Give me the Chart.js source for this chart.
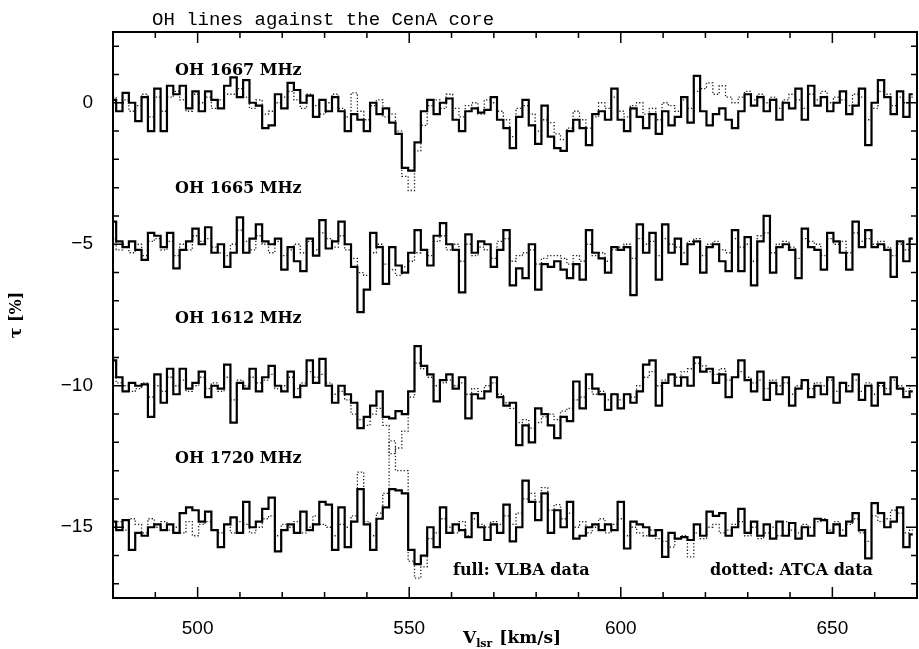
<!DOCTYPE html>
<html><head><meta charset="utf-8">
<script src="https://cdn.jsdelivr.net/npm/chart.js@4.4.1/dist/chart.umd.min.js"></script>
<style>html,body{margin:0;padding:0;background:#fff;}canvas{display:block;}</style>
</head><body>
<canvas id="c" width="919" height="649"></canvas>
<script>
// Channel velocities (km/s)
const velocity = [
480,481.5,483,484.5,486,487.5,489,490.5,492,493.5,
495,496.5,498,499.5,501,502.5,504,505.5,507,508.5,
510,511.5,513,514.5,516,517.5,519,520.5,522,523.5,
525,526.5,528,529.5,531,532.5,534,535.5,537,538.5,
540,541.5,543,544.5,546,547.5,549,550.5,552,553.5,
555,556.5,558,559.5,561,562.5,564,565.5,567,568.5,
570,571.5,573,574.5,576,577.5,579,580.5,582,583.5,
585,586.5,588,589.5,591,592.5,594,595.5,597,598.5,
600,601.5,603,604.5,606,607.5,609,610.5,612,613.5,
615,616.5,618,619.5,621,622.5,624,625.5,627,628.5,
630,631.5,633,634.5,636,637.5,639,640.5,642,643.5,
645,646.5,648,649.5,651,652.5,654,655.5,657,658.5,
660,661.5,663,664.5,666,667.5,669];

// Vertical offsets of the four spectra (%)
const offsets = [0, -5, -10, -15];
const lineNames = ['OH 1667 MHz', 'OH 1665 MHz', 'OH 1612 MHz', 'OH 1720 MHz'];

// VLBA (full) optical depth, %, relative to offset
const vlba1667 = [
0.1,-0.3,0.35,0.0,-0.65,0.2,-1.0,0.5,-1.0,0.6,
0.3,0.6,-0.2,0.4,-0.3,0.4,0.1,-0.2,0.6,0.9,
0.2,0.8,0.0,-0.1,-0.9,-0.8,0.3,-0.2,0.7,0.45,
0.0,0.25,-0.5,0.1,-0.3,0.2,-0.3,-1.0,-0.4,-0.6,
-1.0,0.0,-0.4,-0.2,-0.7,-1.1,-2.3,-2.4,-1.4,-0.3,
0.1,-0.4,0.0,0.15,-0.6,-1.0,-0.3,-0.2,-0.35,-0.25,
0.2,-0.6,-0.9,-1.6,-0.5,0.1,-0.8,-1.45,-0.1,-1.2,
-1.6,-1.7,-1.0,-0.6,-0.9,-1.5,-0.4,-0.3,-0.6,0.5,
-0.6,-1.0,-0.2,-0.5,-0.9,-0.4,-1.1,-0.3,-0.8,-0.5,
0.2,-0.7,0.95,-0.3,-0.8,-0.4,-0.2,-0.6,-0.9,-0.3,
0.3,-0.1,0.2,-0.3,0.1,-0.6,0.0,-0.2,0.5,-0.6,
0.6,-0.1,0.2,-0.3,0.0,0.4,-0.4,-0.1,0.5,-1.5,
0.0,0.8,0.2,-0.4,0.4,-0.5,0.3];
const vlba1665 = [
0.8,0.1,-0.1,0.1,-0.2,-0.55,0.4,0.3,-0.1,0.4,
-0.85,-0.2,0.1,0.55,0.0,0.6,-0.3,0.0,-0.8,-0.3,
0.95,-0.3,0.2,0.7,0.1,0.0,0.2,-0.9,-0.1,-0.6,
-0.95,0.2,-0.4,0.85,-0.15,0.1,0.8,0.0,-0.8,-2.4,
-1.6,0.4,-0.1,-1.4,-0.1,-0.75,-1.0,-0.3,0.5,-0.2,
-0.75,0.3,0.75,0.0,-0.2,-1.7,0.35,-0.3,0.1,0.0,
-0.8,-0.2,0.5,-1.45,-0.85,-1.2,0.0,-1.6,-0.7,-0.8,
-0.6,-0.9,-1.2,-0.7,-1.25,0.5,-0.3,-0.5,-1.0,-0.1,
-0.2,-0.1,-1.8,0.7,-0.3,0.4,-1.25,0.7,-0.3,0.2,
-0.7,0.0,0.1,-1.0,-0.1,0.0,-0.6,-0.95,0.5,-0.95,
0.25,-1.45,0.1,1.0,-1.0,-0.1,0.0,-0.2,-1.2,0.55,
-0.1,-0.2,-0.9,0.4,0.1,-0.3,-0.9,0.8,-0.1,0.5,
-0.1,0.0,-0.2,-1.15,0.1,-0.6,0.2];
const vlba1612 = [
0.9,0.3,-0.2,0.1,0.0,0.05,-1.1,0.4,-0.6,0.6,
-0.3,0.6,-0.1,0.1,0.5,-0.4,0.0,-0.1,0.75,-1.3,
0.1,-0.1,0.6,-0.2,0.3,0.7,0.0,-0.2,0.5,-0.4,
0.0,0.9,0.1,0.95,0.0,-0.6,0.0,-0.3,-0.6,-1.5,
-1.1,-0.7,-0.2,-1.1,-1.15,-0.9,-1.0,-0.2,1.4,0.7,
0.4,-0.55,0.2,0.4,-0.1,0.3,-1.15,-0.3,-0.45,-0.2,
0.3,-0.4,-0.7,-0.6,-2.1,-1.4,-2.0,-0.8,-1.0,-1.4,
-1.85,-1.1,-1.25,0.15,-0.8,0.4,-0.1,-0.3,-0.85,-0.3,
-0.8,-0.3,-0.6,-0.2,0.75,0.9,-0.7,0.1,0.4,0.0,
0.3,0.0,1.0,0.5,0.6,0.1,0.4,-0.4,0.3,0.9,
0.2,-0.2,0.5,-0.5,0.1,-0.3,0.3,-0.7,-0.1,0.2,
-0.4,0.0,-0.3,0.3,-0.6,0.1,-0.2,0.4,-0.5,0.0,
-0.7,0.1,-0.3,0.3,-0.1,-0.4,-0.2];
const vlba1720 = [
0.2,-0.1,0.25,-0.8,-0.2,-0.3,0.0,0.1,-0.1,0.1,
-0.2,0.5,0.7,0.6,0.2,0.55,-0.1,-0.7,0.1,0.35,
-0.2,0.9,0.0,0.2,0.65,1.05,-0.85,-0.1,0.1,-0.2,
0.55,-0.1,0.1,0.9,0.8,-0.8,0.7,-0.7,0.2,1.35,
0.1,-0.8,0.3,0.7,1.35,1.3,1.2,-0.8,-1.3,-1.0,
0.0,-0.7,0.7,-0.2,0.1,-0.1,-0.35,0.5,0.0,-0.45,
0.1,-0.2,0.8,-0.5,0.0,1.65,0.9,0.25,1.2,-0.2,
0.6,0.0,0.9,-0.4,-0.3,0.0,0.1,-0.1,0.1,-0.1,
0.9,-0.75,0.2,0.1,0.0,-0.3,-0.1,-1.05,-0.2,-0.4,
-0.35,-0.45,0.1,-0.3,0.55,0.4,0.5,-0.3,0.0,0.65,
-0.2,0.2,-0.3,0.1,-0.4,0.2,-0.3,0.15,-0.4,0.0,
-0.3,0.3,0.25,-0.2,0.1,-0.3,0.2,0.5,-0.1,-1.1,
0.85,0.5,0.0,0.2,0.7,-0.7,-0.25];

// ATCA (dotted) optical depth, %, relative to offset
const atca1667 = [
0.2,0.0,0.1,-0.3,-0.1,0.3,-0.5,0.2,-0.3,0.2,
0.4,0.1,-0.3,0.3,0.0,0.2,-0.2,0.1,0.3,0.3,
0.5,0.2,-0.2,0.1,-0.4,-0.3,0.0,0.2,0.4,0.1,
-0.2,0.3,-0.1,-0.4,0.0,0.3,-0.2,-0.5,0.35,-0.3,
-0.6,-0.1,0.1,-0.5,-0.4,-1.0,-2.6,-3.1,-1.7,-0.8,
-0.1,0.1,-0.2,0.3,-0.2,-0.5,-0.1,0.0,-0.4,0.1,
0.0,-0.3,-0.6,-1.2,-0.2,-0.1,-0.4,-1.0,-0.6,-0.7,
-1.1,-1.3,-0.9,-0.3,-0.6,-0.9,-0.5,0.0,-0.2,0.2,
-0.3,-0.5,-0.1,0.0,-0.4,-0.2,-0.6,0.0,-0.1,-0.3,
0.1,-0.2,0.4,0.5,0.7,0.3,0.6,0.2,0.0,0.2,
0.4,0.1,0.3,0.0,0.2,-0.2,0.1,0.3,0.1,-0.2,
0.3,0.1,0.4,0.0,0.2,0.1,-0.1,0.3,0.2,-0.6,
-0.2,0.4,0.3,-0.1,0.2,0.0,0.2];
const atca1665 = [
0.2,-0.2,-0.1,-0.3,0.0,-0.4,0.1,0.2,-0.2,0.1,
-0.4,0.0,-0.2,0.3,0.1,0.2,-0.1,-0.3,-0.4,0.0,
0.5,0.1,-0.2,0.3,0.0,-0.3,0.1,-0.4,-0.2,0.0,
-0.3,0.1,-0.2,0.4,0.2,-0.1,0.3,-0.2,-0.5,-1.0,
-1.1,-0.3,0.0,-0.7,-0.9,-1.1,-0.8,-0.6,-0.3,-0.2,
-0.4,0.1,0.3,-0.2,0.0,-0.6,0.0,-0.4,-0.1,-0.2,
-0.5,0.1,0.2,-0.6,-0.4,-0.3,-0.2,-0.7,-0.5,-0.4,
-0.4,-0.5,-0.7,-0.4,-0.6,0.0,-0.4,-0.3,-0.6,-0.2,
-0.1,0.0,-0.5,0.2,0.0,0.1,-0.4,0.2,0.0,-0.1,
-0.3,0.1,0.2,-0.4,0.0,0.1,-0.2,-0.3,0.2,-0.1,
0.0,-0.6,0.3,0.4,-0.3,0.0,0.1,-0.1,-0.5,0.2,
0.1,0.0,-0.4,0.2,0.0,0.1,-0.3,0.4,0.1,0.2,
0.0,0.1,-0.1,-0.4,0.0,-0.2,0.1];
const atca1612 = [
0.3,0.1,0.0,-0.2,-0.1,0.1,-0.4,0.0,-0.2,0.3,
0.0,0.2,-0.2,0.0,0.3,-0.1,0.1,-0.2,0.3,-0.5,
0.2,0.0,0.3,0.1,0.2,0.4,-0.1,0.0,0.3,-0.1,
0.1,0.5,0.3,0.4,0.1,-0.3,-0.2,-0.5,-1.0,-1.2,
-1.4,-1.0,-0.8,-1.4,-2.4,-2.2,-1.6,-0.4,0.8,0.6,
0.3,0.0,0.1,0.2,0.0,0.1,-0.3,-0.1,-0.2,0.0,
0.1,-0.3,-0.6,-0.8,-1.3,-1.2,-1.5,-1.3,-1.1,-1.0,
-1.2,-0.9,-0.8,-0.5,-0.4,-0.1,-0.3,-0.2,-0.5,-0.3,
-0.5,-0.3,-0.4,0.0,0.3,0.5,0.0,0.2,0.4,0.3,
0.5,0.6,0.8,0.7,0.5,0.4,0.6,0.2,0.3,0.5,
0.3,0.1,0.2,-0.1,0.2,0.0,0.1,-0.3,0.0,0.2,
-0.1,0.1,0.0,0.2,-0.2,0.1,0.0,0.2,-0.2,0.1,
-0.3,0.0,-0.1,0.2,0.0,-0.2,0.0];
const atca1720 = [
0.0,0.2,-0.1,0.3,0.1,-0.2,0.3,0.0,0.2,-0.1,
0.0,-0.2,0.2,-0.3,0.1,0.2,-0.1,-0.2,0.1,-0.2,
0.2,0.1,-0.2,0.0,0.3,0.4,-0.3,0.1,0.0,0.2,
-0.2,0.0,0.4,0.1,0.0,-0.3,0.1,0.0,0.4,1.95,
0.2,-0.3,0.5,1.2,3.05,2.0,2.0,-1.2,-1.8,-1.4,
-0.4,-0.2,0.3,0.0,-0.2,0.2,-0.3,0.3,0.1,0.0,
0.2,0.1,0.4,0.1,0.5,1.0,1.2,0.9,1.4,0.6,
0.8,0.3,0.5,0.0,0.2,-0.2,0.0,0.3,-0.2,0.1,
0.3,-0.3,0.0,-0.2,-0.3,-0.1,-0.4,-0.5,-0.7,-0.4,
-0.3,-1.05,-0.2,-0.4,0.0,0.1,-0.2,-0.1,0.1,0.2,
-0.3,0.0,-0.4,-0.2,0.0,-0.3,0.2,-0.1,-0.2,0.1,
0.0,0.2,0.3,-0.1,0.2,-0.1,0.1,0.3,-0.2,-0.5,
0.4,0.2,0.3,0.6,0.5,-0.2,-0.1];

// Axis ticks
const xTicks = [500, 550, 600, 650];
const xTickLabels = ['500', '550', '600', '650'];
const xMinorTicks = [490,500,510,520,530,540,550,560,570,580,590,600,610,620,630,640,650,660];
const yTicks = [0, -5, -10, -15];
const yTickLabels = ['0', '\u22125', '\u221210', '\u221215'];
const yMinorTicks = [2,1,0,-1,-2,-3,-4,-5,-6,-7,-8,-9,-10,-11,-12,-13,-14,-15,-16,-17];

const vlbaSeries = [vlba1667, vlba1665, vlba1612, vlba1720];
const atcaSeries = [atca1667, atca1665, atca1612, atca1720];

function toPoints(arr, off) {
  return arr.map((d, j) => ({ x: velocity[j], y: d + off }));
}

const datasets = [];
atcaSeries.forEach((arr, i) => datasets.push({
  label: 'ATCA ' + lineNames[i], data: toPoints(arr, offsets[i]),
  stepped: 'middle', borderColor: '#222', borderWidth: 1.3, borderDash: [1.3, 2],
  pointRadius: 0, fill: false, order: 2
}));
vlbaSeries.forEach((arr, i) => datasets.push({
  label: 'VLBA ' + lineNames[i], data: toPoints(arr, offsets[i]),
  stepped: 'middle', borderColor: '#000', borderWidth: 2.2,
  pointRadius: 0, fill: false, order: 1
}));

const framePlugin = {
  id: 'frame',
  afterDraw(chart) {
    const { ctx, chartArea: a, scales: { x, y } } = chart;
    ctx.save();
    ctx.strokeStyle = '#000';
    ctx.lineWidth = 2;
    ctx.strokeRect(a.left, a.top, a.right - a.left, a.bottom - a.top);
    ctx.lineWidth = 1.5;
    ctx.beginPath();
    xMinorTicks.forEach(v => {
      const px = x.getPixelForValue(v);
      const L = xTicks.includes(v) ? 11 : 6;
      ctx.moveTo(px, a.bottom); ctx.lineTo(px, a.bottom - L);
      ctx.moveTo(px, a.top); ctx.lineTo(px, a.top + L);
    });
    yMinorTicks.forEach(v => {
      const py = y.getPixelForValue(v);
      const L = yTicks.includes(v) ? 11 : 6;
      ctx.moveTo(a.left, py); ctx.lineTo(a.left + L, py);
      ctx.moveTo(a.right, py); ctx.lineTo(a.right - L, py);
    });
    ctx.stroke();

    ctx.fillStyle = '#000';
    // Title
    ctx.font = '19px "Liberation Mono"';
    ctx.textAlign = 'left';
    ctx.textBaseline = 'alphabetic';
    ctx.fillText('OH lines against the CenA core', 152, 25);

    // Spectrum labels
    ctx.font = 'bold 16px "DejaVu Serif"';
    const labelY = [75, 193, 323, 463];
    lineNames.forEach((n, i) => ctx.fillText(n, 175, labelY[i]));
    ctx.fillText('full: VLBA data', 453, 575);
    ctx.fillText('dotted: ATCA data', 710, 575);

    // X axis title
    let xx = 463;
    ctx.font = 'bold 17px "DejaVu Serif"';
    ctx.fillText('V', xx, 643);
    xx += ctx.measureText('V').width;
    ctx.font = 'bold 11px "DejaVu Serif"';
    ctx.fillText('lsr', xx, 647);
    xx += ctx.measureText('lsr').width + 7;
    ctx.font = 'bold 17px "DejaVu Serif"';
    ctx.fillText('[km/s]', xx, 643);

    // Y axis title
    ctx.translate(17, 315);
    ctx.rotate(-Math.PI / 2);
    ctx.textAlign = 'center';
    ctx.textBaseline = 'middle';
    ctx.font = 'bold 16px "DejaVu Serif"';
    ctx.fillText('\u03C4 [%]', 0, 0);
    ctx.restore();
  }
};

new Chart(document.getElementById('c'), {
  type: 'line',
  data: { datasets },
  options: {
    responsive: false,
    animation: false,
    layout: { padding: { left: 0, right: 2, top: 32, bottom: 0 } },
    plugins: { legend: { display: false }, tooltip: { enabled: false }, title: { display: false } },
    scales: {
      x: {
        type: 'linear', min: 480, max: 670,
        afterBuildTicks: s => { s.ticks = xTicks.map(v => ({ value: v })); },
        afterFit: s => { s.height = 51; },
        grid: { display: false }, border: { display: false },
        ticks: { padding: 11, color: '#000', maxRotation: 0, autoSkip: false,
          font: { family: 'Liberation Sans', size: 19 },
          callback: (v, i) => xTickLabels[i] }
      },
      y: {
        type: 'linear', min: -17.5, max: 2.5,
        afterBuildTicks: s => { s.ticks = yTicks.map(v => ({ value: v })); },
        afterFit: s => { s.width = 113; },
        grid: { display: false }, border: { display: false },
        ticks: { padding: 12, color: '#000', autoSkip: false,
          font: { family: 'Liberation Sans', size: 19 },
          callback: (v, i) => yTickLabels[i] }
      }
    }
  },
  plugins: [framePlugin]
});
</script>
</body></html>
